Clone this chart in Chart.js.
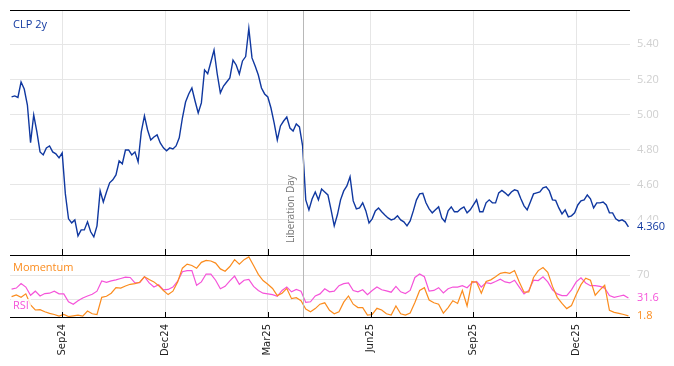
<!DOCTYPE html>
<html>
<head>
<meta charset="utf-8">
<script src="https://cdn.jsdelivr.net/npm/chart.js@4.4.1/dist/chart.umd.min.js"></script>
<style>
  html, body { margin: 0; padding: 0; background: #fff; }
</style>
</head>
<body>
<canvas id="myChart" width="674" height="366"></canvas>
<script>
/* CLP 2y with momentum and RSI panel */
const startDate = '2024-07-17';
const dayCount = 393;                 // trading days on the axis
const quarterMonths = [2, 5, 8, 11];  // Mar, Jun, Sep, Dec
const monthNames = ['Jan','Feb','Mar','Apr','May','Jun','Jul','Aug','Sep','Oct','Nov','Dec'];
const eventDate = '2025-04-02';
const eventLabel = 'Liberation Day';

// CLP 2y, every 2nd trading day
const clpValues = [
  5.100, 5.106, 5.097, 5.185, 5.145, 5.054, 4.840, 4.997, 4.901, 4.787,
  4.770, 4.810, 4.821, 4.787, 4.776, 4.753, 4.781, 4.548, 4.406, 4.383,
  4.400, 4.309, 4.343, 4.343, 4.389, 4.332, 4.303, 4.366, 4.565, 4.502,
  4.559, 4.611, 4.628, 4.656, 4.736, 4.719, 4.798, 4.798, 4.770, 4.787,
  4.730, 4.901, 4.992, 4.912, 4.855, 4.872, 4.884, 4.838, 4.810, 4.793,
  4.810, 4.804, 4.821, 4.867, 4.980, 5.071, 5.117, 5.151, 5.077, 5.009,
  5.066, 5.254, 5.232, 5.299, 5.367, 5.232, 5.123, 5.162, 5.185, 5.208,
  5.310, 5.282, 5.231, 5.305, 5.330, 5.490, 5.322, 5.276, 5.225, 5.151,
  5.117, 5.100, 5.037, 4.952, 4.855, 4.935, 4.963, 4.986, 4.923, 4.906,
  4.946, 4.929, 4.821, 4.514, 4.457, 4.519, 4.559, 4.514, 4.576, 4.559,
  4.542, 4.457, 4.366, 4.429, 4.514, 4.565, 4.593, 4.645, 4.508, 4.463,
  4.468, 4.497, 4.451, 4.383, 4.406, 4.451, 4.468, 4.446, 4.428, 4.411,
  4.400, 4.406, 4.423, 4.400, 4.389, 4.366, 4.394, 4.451, 4.514, 4.548,
  4.551, 4.497, 4.463, 4.440, 4.457, 4.474, 4.411, 4.389, 4.451, 4.474,
  4.446, 4.446, 4.463, 4.474, 4.440, 4.457, 4.485, 4.514, 4.446, 4.446,
  4.497, 4.514, 4.497, 4.497, 4.554, 4.568, 4.554, 4.537, 4.559, 4.571,
  4.565, 4.520, 4.480, 4.457, 4.502, 4.548, 4.554, 4.559, 4.582, 4.588,
  4.565, 4.514, 4.511, 4.468, 4.434, 4.457, 4.417, 4.423, 4.440, 4.485,
  4.508, 4.514, 4.542, 4.520, 4.468, 4.497, 4.497, 4.502, 4.485, 4.440,
  4.440, 4.406, 4.394, 4.400, 4.389, 4.360
];

// Momentum, every 3rd trading day
const momentumValues = [
  34.0, 36.8, 32.8, 38.6, 20.3, 11.7, 12.2, 8.8, 6.0, 4.2,
  1.4, 4.2, 0.8, 1.9, 3.1, 1.4, 10.0, 5.4, 4.2, 32.8,
  34.6, 39.7, 48.9, 48.3, 51.7, 54.6, 55.7, 58.0, 67.2, 62.6,
  58.6, 52.3, 44.3, 37.4, 43.1, 58.6, 81.5, 88.3, 86.0, 81.5,
  91.2, 94.6, 93.5, 90.0, 80.3, 76.3, 84.3, 95.8, 88.3, 95.8,
  100.3, 86.0, 71.2, 60.9, 54.6, 47.7, 35.7, 39.7, 47.7, 30.6,
  32.3, 27.1, 13.4, 8.8, 14.0, 21.4, 23.7, 11.1, 5.4, 8.8,
  24.8, 35.1, 21.4, 15.7, 15.7, 3.1, 4.2, 14.5, 11.7, 5.4,
  3.1, 18.5, 5.4, 3.1, 6.5, 24.3, 44.3, 48.9, 28.3, 23.7,
  21.4, 6.5, 15.7, 27.1, 22.6, 44.3, 18.5, 59.2, 58.0, 39.7,
  59.2, 62.0, 67.2, 72.9, 74.6, 72.9, 77.5, 58.6, 41.4, 42.0,
  66.0, 77.5, 82.6, 74.6, 51.1, 32.8, 22.6, 14.0, 19.1, 37.4,
  54.0, 64.9, 61.4, 36.3, 45.4, 52.9, 11.1, 7.7, 6.0, 4.2,
  1.8
];

// RSI, every 3rd trading day
const rsiValues = [
  46.6, 48.3, 55.7, 50.0, 36.3, 43.1, 35.1, 39.1, 39.7, 43.1,
  38.6, 38.6, 25.4, 21.4, 27.1, 31.7, 35.1, 38.0, 43.1, 60.3,
  58.0, 60.3, 62.0, 64.3, 66.6, 66.0, 56.9, 57.4, 67.2, 56.9,
  50.0, 54.0, 45.4, 46.0, 50.0, 59.7, 75.7, 77.5, 77.5, 52.9,
  58.6, 71.7, 71.7, 61.4, 47.1, 51.1, 60.3, 68.3, 54.6, 61.4,
  62.6, 51.1, 44.3, 39.7, 38.6, 37.4, 34.6, 44.3, 50.0, 42.0,
  46.0, 43.1, 24.3, 25.4, 35.1, 38.6, 47.1, 42.0, 43.1, 52.3,
  55.7, 56.9, 44.3, 42.0, 45.4, 37.4, 44.3, 50.0, 45.4, 43.7,
  41.4, 51.1, 42.0, 39.1, 44.3, 66.0, 71.7, 67.2, 43.1, 44.3,
  48.9, 40.3, 47.1, 50.0, 50.0, 52.3, 48.9, 56.9, 59.2, 50.0,
  57.4, 55.7, 59.2, 63.2, 58.6, 56.9, 61.4, 50.0, 38.6, 44.3,
  61.4, 60.9, 67.2, 58.6, 45.4, 38.6, 35.7, 35.7, 45.4, 58.6,
  65.4, 56.9, 52.3, 52.3, 51.1, 48.3, 35.7, 32.8, 34.6, 36.3,
  31.6
];

const clpTicks = [4.4, 4.6, 4.8, 5.0, 5.2, 5.4];
const lowerTicks = [30, 70];

// trading days (weekdays) from the start date
const days = [];
let d = new Date(startDate + 'T00:00:00Z');
while (days.length < dayCount) {
  const wd = d.getUTCDay();
  if (wd !== 0 && wd !== 6) days.push(new Date(d));
  d.setUTCDate(d.getUTCDate() + 1);
}
function dayLabel(i) {
  const t = days[i];
  return monthNames[t.getUTCMonth()] + String(t.getUTCFullYear()).slice(2);
}
const quarterIdx = [];
days.forEach(function(t, i) {
  if (i > 0 && quarterMonths.includes(t.getUTCMonth()) && days[i - 1].getUTCMonth() !== t.getUTCMonth()) {
    quarterIdx.push(i);
  }
});
const eventIdx = days.findIndex(t => t.toISOString().slice(0, 10) === eventDate);

function toPoints(values, first, step) {
  return values.map((v, k) => ({ x: first + k * step, y: v }));
}

const blue = '#1038a0';
const orange = '#fb8c1e';
const pink = '#f553d9';
const font = "'Open Sans', sans-serif";

function tag(ctx, text, x, y, color, bg) {
  ctx.font = '11px ' + font;
  ctx.textAlign = 'left';
  ctx.textBaseline = 'middle';
  if (bg) {
    const w = ctx.measureText(text).width;
    ctx.fillStyle = bg;
    ctx.fillRect(x - 2, y - 7, w + 4, 14);
  }
  ctx.fillStyle = color;
  ctx.fillText(text, x, y);
}

// no extra room for the outer tick labels
function noPad(scale) {
  scale.paddingTop = 0;
  scale.paddingBottom = 0;
  scale.paddingLeft = 0;
  scale.paddingRight = 0;
}

const overlay = {
  id: 'overlay',
  afterDatasetsDraw(chart) {
    const { ctx, chartArea: a, scales } = chart;
    const x = scales.x, yTop = scales.y, yLow = scales.y2;
    ctx.save();

    // event line and label
    const ex = Math.round(x.getPixelForValue(eventIdx)) + 0.5;
    ctx.strokeStyle = '#b8b8b8';
    ctx.lineWidth = 1;
    ctx.beginPath();
    ctx.moveTo(ex, a.top);
    ctx.lineTo(ex, a.bottom);
    ctx.stroke();
    ctx.save();
    ctx.translate(ex - 12, yTop.bottom - 12);
    ctx.rotate(-Math.PI / 2);
    ctx.font = '10px ' + font;
    ctx.fillStyle = '#777';
    ctx.textAlign = 'left';
    ctx.textBaseline = 'middle';
    ctx.fillText(eventLabel, 0, 0);
    ctx.restore();

    // frame lines
    ctx.strokeStyle = '#000';
    [a.top, yTop.bottom, a.bottom].forEach(function(py) {
      const yy = Math.round(py) + 0.5;
      ctx.beginPath();
      ctx.moveTo(a.left, yy);
      ctx.lineTo(a.right, yy);
      ctx.stroke();
    });
    quarterIdx.forEach(function(i) {
      const px = Math.round(x.getPixelForValue(i)) + 0.5;
      ctx.beginPath();
      ctx.moveTo(px, yTop.bottom);
      ctx.lineTo(px, yTop.bottom - 6);
      ctx.moveTo(px, a.bottom);
      ctx.lineTo(px, a.bottom - 5);
      ctx.stroke();
    });

    // series names
    tag(ctx, 'CLP 2y', 13, a.top + 15, blue);
    tag(ctx, 'Momentum', 13, yLow.top + 13, orange, 'rgba(255,255,255,0.8)');
    tag(ctx, 'RSI', 13, yLow.bottom - 11, pink, 'rgba(255,255,255,0.8)');

    // last values on the right
    const lx = a.right + 7;
    const lastClp = clpValues[clpValues.length - 1];
    const lastMom = momentumValues[momentumValues.length - 1];
    const lastRsi = rsiValues[rsiValues.length - 1];
    tag(ctx, lastClp.toFixed(3), lx, yTop.getPixelForValue(lastClp), blue, '#fff');
    tag(ctx, lastRsi.toFixed(1), lx, yLow.getPixelForValue(lastRsi), pink, '#fff');
    tag(ctx, lastMom.toFixed(1), lx, Math.min(yLow.getPixelForValue(lastMom), a.bottom - 1), orange);

    ctx.restore();
  }
};

const ctx = document.getElementById('myChart').getContext('2d');
const chart = new Chart(ctx, {
  type: 'line',
  data: {
    datasets: [{
      label: 'CLP 2y',
      data: toPoints(clpValues, 1, 2),
      yAxisID: 'y',
      borderColor: blue,
      borderWidth: 1.4
    }, {
      label: 'Momentum',
      data: toPoints(momentumValues, 1, 3),
      yAxisID: 'y2',
      borderColor: orange,
      borderWidth: 1.2
    }, {
      label: 'RSI',
      data: toPoints(rsiValues, 1, 3),
      yAxisID: 'y2',
      borderColor: pink,
      borderWidth: 1.2
    }]
  },
  options: {
    responsive: false,
    animation: false,
    devicePixelRatio: 1,
    layout: { padding: { left: 10, top: 10, right: 0, bottom: 0 } },
    elements: { point: { radius: 0 }, line: { tension: 0 } },
    plugins: { legend: { display: false }, tooltip: { enabled: false } },
    scales: {
      x: {
        type: 'linear',
        min: 0,
        max: dayCount - 1,
        afterBuildTicks: function(scale) { scale.ticks = quarterIdx.map(i => ({ value: i })); },
        afterFit: function(scale) { scale.height = 49; noPad(scale); },
        border: { display: false },
        grid: { color: '#e6e6e6', drawTicks: false },
        ticks: {
          autoSkip: false,
          minRotation: 90,
          maxRotation: 90,
          padding: 7,
          color: '#222',
          font: { family: 'DejaVu Sans', size: 10 },
          callback: function(v) { return dayLabel(v); }
        }
      },
      y: {
        position: 'right',
        stack: 'panels',
        stackWeight: 245,
        min: 4.2,
        max: 5.595,
        afterBuildTicks: function(scale) { scale.ticks = clpTicks.map(v => ({ value: v })); },
        afterFit: function(scale) { scale.width = 44; noPad(scale); },
        border: { display: false },
        grid: { color: '#e6e6e6', drawTicks: false },
        ticks: {
          padding: 7,
          color: '#cfcfcf',
          font: { family: 'Open Sans', size: 11 },
          callback: function(v) { return v.toFixed(2); }
        }
      },
      y2: {
        position: 'right',
        stack: 'panels',
        stackWeight: 62,
        min: 0,
        max: 103.5,
        afterBuildTicks: function(scale) { scale.ticks = lowerTicks.map(v => ({ value: v })); },
        afterFit: function(scale) { scale.width = 44; noPad(scale); },
        border: { display: false },
        grid: { color: '#e6e6e6', drawTicks: false },
        ticks: {
          padding: 7,
          color: '#cfcfcf',
          font: { family: 'Open Sans', size: 11 },
          callback: function(v) { return v === 70 ? '70' : ''; }
        }
      }
    }
  },
  plugins: [overlay]
});
</script>
</body>
</html>
